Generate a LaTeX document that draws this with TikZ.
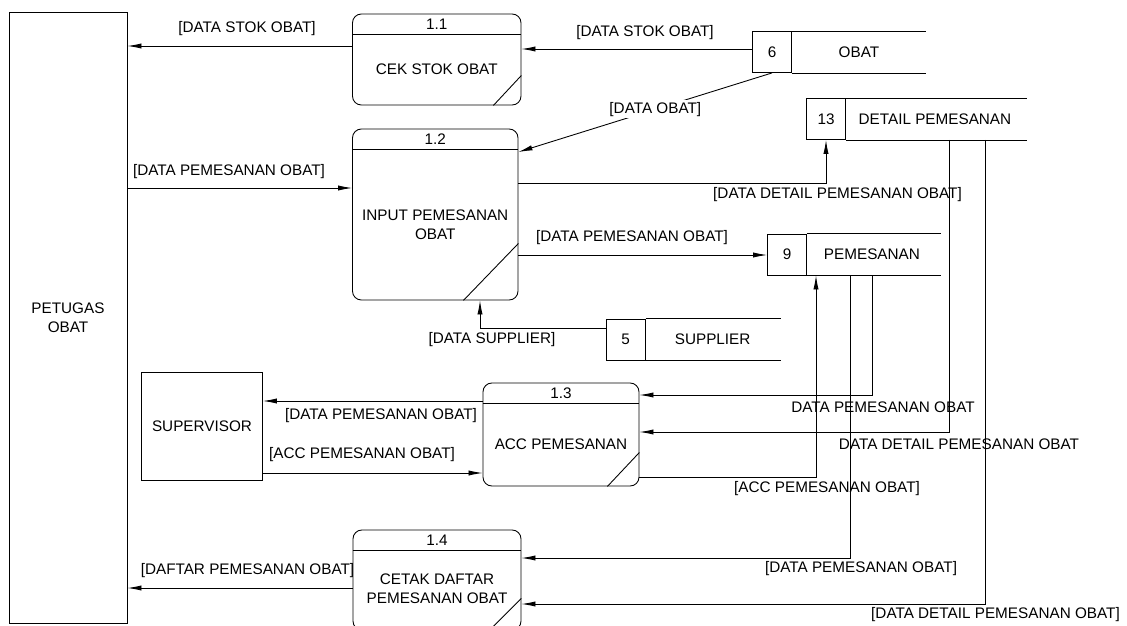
\documentclass[tikz,border=0pt]{standalone}
\usepackage{fontspec}
\setmainfont{Liberation Sans}
\usepackage{tikz}
\usetikzlibrary{arrows.meta,calc}

\begin{document}
\begin{tikzpicture}[x=0.02cm,y=-0.02cm,line width=0.5pt,
  teks/.style={font=\fontsize{8.7}{10.8}\selectfont,inner sep=1pt,align=center},
  entitas/.style={draw,teks},
  proses/.style={draw,rounded corners=5pt},
  nomor/.style={draw,teks,minimum width=0.78cm,minimum height=0.82cm},
  arus/.style={-{Latex[length=8pt,width=3pt]}}]
\useasboundingbox (0,0) rectangle (1127,626); \clip (0,0) rectangle (1127,626);
% entitas luar
\node[entitas,minimum width=2.36cm,minimum height=12.22cm] (petugas) at (68,317.5) {PETUGAS\\OBAT};
\node[entitas,minimum width=2.42cm,minimum height=2.16cm] (supervisor) at (202,426) {SUPERVISOR};
% proses
\node[proses,minimum width=3.37cm,minimum height=1.82cm] (p11) at (436.75,59.5) {};
\node[proses,minimum width=3.31cm,minimum height=3.42cm] (p12) at (435.25,214.5) {};
\node[proses,minimum width=3.12cm,minimum height=2.06cm] (p13) at (561,434.5) {};
\node[proses,minimum width=3.36cm,minimum height=2.0cm] (p14) at (437,580) {};
\foreach \p/\n in {p11/1.1,p12/1.2,p13/1.3,p14/1.4}{
  \draw ($(\p.north west)+(0,21)$) -- ($(\p.north east)+(0,21)$);
  \node[teks] (\p n) at ($(\p.north)+(0,10.5)$) {\n};}
\draw ($(p11.south east)+(-28,0)$) -- ($(p11.south east)+(0,-30)$);
\draw ($(p12.south east)+(-55,0)$) -- ($(p12.south east)+(0,-57)$);
\draw ($(p13.south east)+(-32,0)$) -- ($(p13.south east)+(0,-34)$);
\draw ($(p14.south east)+(-32,0)$) -- ($(p14.south east)+(0,-32)$);
\node[teks] (p11t) at ($(p11.center)+(0,10)$) {CEK STOK OBAT};
\node[teks] (p12t) at ($(p12.center)+(0,10)$) {INPUT PEMESANAN\\OBAT};
\node[teks] (p13t) at ($(p13.center)+(0,10)$) {ACC PEMESANAN};
\node[teks] (p14t) at ($(p14.center)+(0,9)$) {CETAK DAFTAR\\PEMESANAN OBAT};
% data store
\node[nomor] (s6) at (772,52) {6}; \draw (s6.north east) -- ++(134,0) (s6.south east) -- ++(134,0);
\node[teks] (s6t) at ($(s6.east)+(67,0)$) {OBAT};
\node[nomor] (s13) at (826,119) {13}; \draw (s13.north east) -- ++(181,0) (s13.south east) -- ++(181,0);
\node[teks] (s13t) at ($(s13.east)+(89,0)$) {DETAIL PEMESANAN};
\node[nomor] (s9) at (787,254.5) {9}; \draw (s9.north east) -- ++(134,0) (s9.south east) -- ++(134,0);
\node[teks] (s9t) at ($(s9.east)+(65,0)$) {PEMESANAN};
\node[nomor] (s5) at (625.7,339.5) {5}; \draw (s5.north east) -- ++(135,0) (s5.south east) -- ++(135,0);
\node[teks] (s5t) at ($(s5.east)+(67,0)$) {SUPPLIER};
% aliran data
\draw[arus] (p11.west |- 0,46) -- (petugas.east |- 0,46); \node[teks] (a1) at (247,29) {[DATA STOK OBAT]};
\draw[arus] (petugas.east |- 0,188) -- (p12.west |- 0,188); \node[teks] (a2) at (229,172) {[DATA PEMESANAN OBAT]};
\draw[arus] (s6.west |- 0,49) -- (p11.east |- 0,49); \node[teks] (a3) at (645,33) {[DATA STOK OBAT]};
\draw[arus] (s6.south) -- node[teks,fill=white,pos=0.46] (a4) {[DATA OBAT]} (p12.east |- 0,152);
\draw[arus] (p12.east |- 0,183) -| (s13.south); \node[teks] (a5) at (837.5,195) {[DATA DETAIL PEMESANAN OBAT]};
\draw[arus] (p12.east |- 0,255) -- (s9.west |- 0,255); \node[teks] (a6) at (632,238) {[DATA PEMESANAN OBAT]};
\draw[arus] (s5.west |- 0,328) -| (p12.south -| 480,0); \node[teks] (a7) at (492,340) {[DATA SUPPLIER]};
\draw[arus] (p13.west |- 0,401) -- (supervisor.east |- 0,401); \node[teks] (a8) at (381,416) {[DATA PEMESANAN OBAT]};
\draw[arus] (supervisor.east |- 0,473) -- (p13.west |- 0,473); \node[teks] (a9) at (362,455) {[ACC PEMESANAN OBAT]};
\draw[arus] (s9.south -| 872.5,0) |- (p13.east |- 0,395); \node[teks] (a10) at (883,407) {DATA PEMESANAN OBAT};
\draw[arus] (s13.south -| 949,0) |- (p13.east |- 0,432); \node[teks] (a11) at (959,444) {DATA DETAIL PEMESANAN OBAT};
\draw[arus] (p13.east |- 0,477) -| (s9.south -| 816,0); \node[teks] (a12) at (827,489) {[ACC PEMESANAN OBAT]};
\draw[arus] (s9.south -| 850,0) |- (p14.east |- 0,558); \node[teks] (a13) at (861,569) {[DATA PEMESANAN OBAT]};
\draw[arus] (s13.south -| 985,0) |- (p14.east |- 0,604); \node[teks] (a14) at (995.5,615) {[DATA DETAIL PEMESANAN OBAT]};
\draw[arus] (p14.west |- 0,588) -- (petugas.east |- 0,588); \node[teks] (a15) at (247.5,571) {[DAFTAR PEMESANAN OBAT]};
\end{tikzpicture}
\end{document}
